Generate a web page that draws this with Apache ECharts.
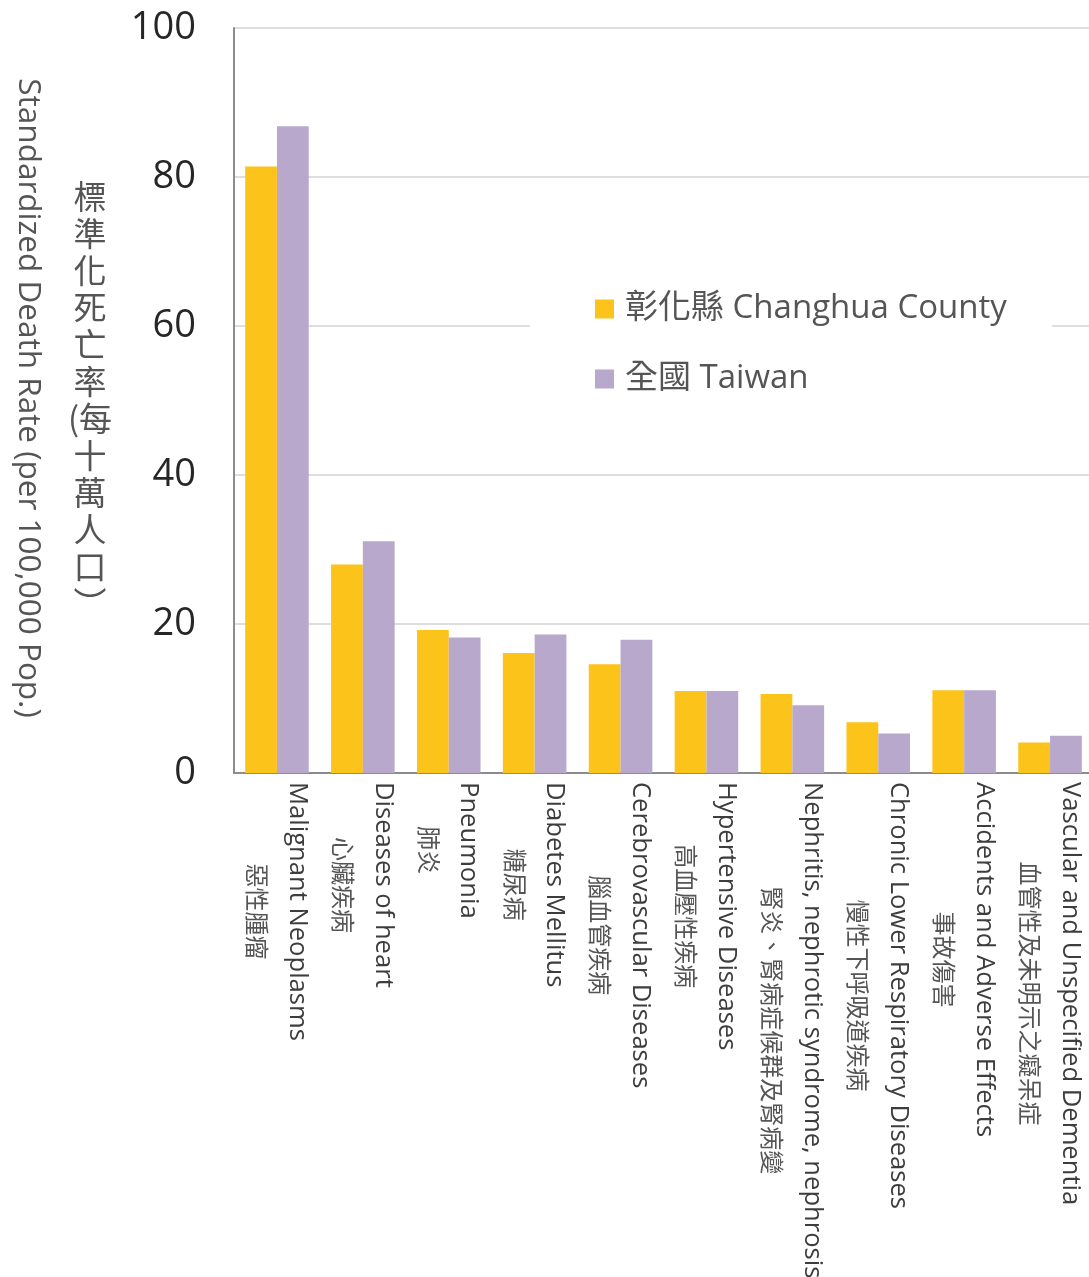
<!DOCTYPE html>
<html>
<head>
<meta charset="utf-8">
<script src="https://cdn.jsdelivr.net/npm/echarts@6/dist/echarts.min.js"></script>
<style>
html,body{margin:0;padding:0;background:#fff;}
#chart{width:1089px;height:1277px;}
</style>
</head>
<body>
<div id="chart"></div>
<script>
// ---- data ----
const categoriesEn = [
  "Malignant Neoplasms",
  "Diseases of heart",
  "Pneumonia",
  "Diabetes Mellitus",
  "Cerebrovascular Diseases",
  "Hypertensive Diseases",
  "Nephritis, nephrotic syndrome, nephrosis",
  "Chronic Lower Respiratory Diseases",
  "Accidents and Adverse Effects",
  "Vascular and Unspecified Dementia"
];
const categoriesZh = [
  "惡性腫瘤",
  "心臟疾病",
  "肺炎",
  "糖尿病",
  "腦血管疾病",
  "高血壓性疾病",
  "腎炎、腎病症候群及腎病變",
  "慢性下呼吸道疾病",
  "事故傷害",
  "血管性及未明示之癡呆症"
];
const changhuaValues = [81.4, 28.0, 19.2, 16.1, 14.6, 11.0, 10.6, 6.8, 11.1, 4.1];
const taiwanValues   = [86.8, 31.1, 18.2, 18.6, 17.9, 11.0, 9.1, 5.3, 11.1, 5.0];
const seriesNames = ["彰化縣 Changhua County", "全國 Taiwan"];
const yTitleEn = "Standardized Death Rate (per 100,000 Pop.)";
const yTitleZh = ["標","準","化","死","亡","率","(每","十","萬","人","口","︶"];

const FONT = "'Open Sans', 'Noto Sans CJK TC', sans-serif";
const ZH_FONT = "'Noto Sans CJK TC', sans-serif";
const EN_SIZE = 25.6;
const ZH_SIZE = 24;

// measure text so the Chinese line is centred on the English line
const mctx = document.createElement('canvas').getContext('2d');
function textWidth(t, size, fam) { mctx.font = size + 'px ' + fam; return mctx.measureText(t).width; }

const rich = {
  en: {fontSize: EN_SIZE, lineHeight: 40, color: '#3d3d3d', fontFamily: FONT}
};
categoriesZh.forEach(function (zh, i) {
  const ew = textWidth(categoriesEn[i], EN_SIZE, FONT);
  const zw = textWidth(zh, ZH_SIZE, ZH_FONT);
  rich['zh' + i] = {
    fontSize: ZH_SIZE, lineHeight: 40, color: '#555', fontFamily: ZH_FONT,
    padding: [0, 0, 0, Math.max(0, (ew - zw) / 2)]
  };
});

const chart = echarts.init(document.getElementById('chart'), null, {renderer: 'canvas'});
chart.setOption({
  backgroundColor: '#fff',
  animation: false,
  textStyle: {fontFamily: FONT},
  grid: {left: 234, right: -4, top: 28, bottom: 504, containLabel: false, outerBoundsMode: 'none'},
  legend: {
    orient: 'vertical',
    left: 530,
    top: 269,
    padding: [20, 45, 20, 65],
    backgroundColor: '#fff',
    itemWidth: 19,
    itemHeight: 19,
    itemGap: 30,
    icon: 'rect',
    textStyle: {fontSize: 33, lineHeight: 40, color: '#555', fontFamily: FONT, padding: [0, 0, 0, 6]},
    data: seriesNames
  },
  xAxis: {
    type: 'category',
    data: categoriesEn,
    axisTick: {show: false},
    axisLine: {lineStyle: {color: '#8c8c8c', width: 2}},
    axisLabel: {
      interval: 0,
      rotate: -90,
      margin: 9,
      hideOverlap: false,
      formatter: function (v, i) {
        return '{en|' + categoriesEn[i] + '}\n{zh' + i + '|' + categoriesZh[i] + '}';
      },
      rich: rich
    }
  },
  yAxis: {
    type: 'value',
    min: 0,
    max: 100,
    interval: 20,
    axisLine: {show: true, lineStyle: {color: '#8c8c8c', width: 2}},
    axisTick: {show: false},
    splitLine: {lineStyle: {color: '#dedede', width: 2}},
    axisLabel: {fontSize: 38, color: '#262626', margin: 38, fontFamily: FONT}
  },
  series: [
    {
      name: seriesNames[0],
      type: 'bar',
      data: changhuaValues,
      barGap: '0%',
      barCategoryGap: '26%',
      itemStyle: {color: '#FCC31B'}
    },
    {
      name: seriesNames[1],
      type: 'bar',
      data: taiwanValues,
      barGap: '0%',
      barCategoryGap: '26%',
      itemStyle: {color: '#B8A8CB'}
    }
  ],
  graphic: [
    {
      type: 'text',
      x: 28, y: 398,
      rotation: -Math.PI / 2,
      style: {
        text: yTitleEn,
        fontSize: 31.5,
        fill: '#555',
        fontFamily: FONT,
        textAlign: 'center',
        verticalAlign: 'middle'
      }
    },
    {
      type: 'text',
      x: 90, y: 400,
      style: {
        text: yTitleZh.join('\n'),
        fontSize: 33,
        lineHeight: 37,
        fill: '#555',
        fontFamily: ZH_FONT,
        textAlign: 'center',
        verticalAlign: 'middle'
      }
    }
  ]
});
</script>
</body>
</html>
